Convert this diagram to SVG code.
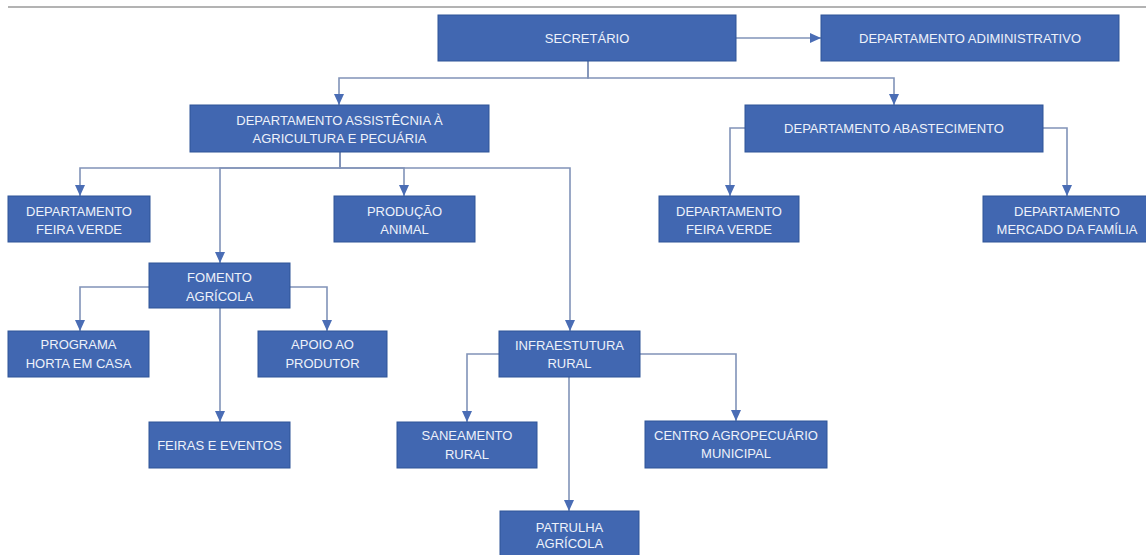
<svg xmlns="http://www.w3.org/2000/svg" width="1146" height="555" viewBox="0 0 1146 555">
  <style>
    .box { fill: #4167b1; stroke: #2f5597; stroke-width: 1; }
    .lbl { font-family: "Liberation Sans", Arial, sans-serif; font-size: 13px; fill: #eef2fa; text-anchor: middle; }
    .conn { fill: none; stroke: #8193b8; stroke-width: 1.6; }
    .arr { marker-end: url(#head); }
  </style>
  <defs>
    <marker id="head" markerUnits="userSpaceOnUse" markerWidth="11" markerHeight="10" refX="11" refY="5" orient="auto">
      <path d="M0,0 L11,5 L0,10 Z" fill="#4a6db5"/>
    </marker>
  </defs>
  <rect width="1146" height="555" fill="#ffffff"/>
  <!-- page rule along the top -->
  <line x1="8" y1="7" x2="1146" y2="7" stroke="#9a9a9a" stroke-width="1.5"/>

  <g id="connectors">
    <path class="conn arr" d="M736,38 H821"/>
    <path class="conn arr" d="M588,61 V78 H339 V105"/>
    <path class="conn arr" d="M588,61 V78 H894 V105"/>
    <path class="conn arr" d="M340,152 V168 H80 V196"/>
    <path class="conn arr" d="M340,152 V168 H220 V263"/>
    <path class="conn arr" d="M340,152 V168 H404 V196"/>
    <path class="conn arr" d="M340,152 V168 H570 V331"/>
    <path class="conn arr" d="M745,128 H730 V196"/>
    <path class="conn arr" d="M1043,128 H1067 V196"/>
    <path class="conn arr" d="M149,287 H80 V331"/>
    <path class="conn arr" d="M290,287 H327 V331"/>
    <path class="conn arr" d="M220,308 V422"/>
    <path class="conn arr" d="M499,354 H467 V422"/>
    <path class="conn arr" d="M640,354 H736 V421"/>
    <path class="conn arr" d="M569,377 V511"/>
  </g>

  <g id="secretario">
    <rect class="box" x="438" y="15" width="298" height="46"/>
    <text class="lbl" x="587" y="42.6">SECRETÁRIO</text>
  </g>
  <g id="dep-administrativo">
    <rect class="box" x="821" y="15" width="298" height="46"/>
    <text class="lbl" x="970" y="42.6">DEPARTAMENTO ADIMINISTRATIVO</text>
  </g>
  <g id="dep-assistencia">
    <rect class="box" x="190" y="105" width="299" height="47"/>
    <text class="lbl" x="339.5" y="124.6">DEPARTAMENTO ASSISTÊCNIA À</text>
    <text class="lbl" x="339.5" y="142.6">AGRICULTURA E PECUÁRIA</text>
  </g>
  <g id="dep-abastecimento">
    <rect class="box" x="745" y="105" width="298" height="47"/>
    <text class="lbl" x="894" y="132.6">DEPARTAMENTO ABASTECIMENTO</text>
  </g>
  <g id="feira-verde-1">
    <rect class="box" x="8" y="196" width="142" height="46"/>
    <text class="lbl" x="79" y="215.6">DEPARTAMENTO</text>
    <text class="lbl" x="79" y="233.6">FEIRA VERDE</text>
  </g>
  <g id="producao-animal">
    <rect class="box" x="334" y="196" width="141" height="46"/>
    <text class="lbl" x="404.5" y="215.6">PRODUÇÃO</text>
    <text class="lbl" x="404.5" y="233.6">ANIMAL</text>
  </g>
  <g id="feira-verde-2">
    <rect class="box" x="659" y="196" width="140" height="46"/>
    <text class="lbl" x="729" y="215.6">DEPARTAMENTO</text>
    <text class="lbl" x="729" y="233.6">FEIRA VERDE</text>
  </g>
  <g id="mercado-familia">
    <rect class="box" x="983" y="196" width="168" height="46"/>
    <text class="lbl" x="1067" y="215.6">DEPARTAMENTO</text>
    <text class="lbl" x="1067" y="233.6">MERCADO DA FAMÍLIA</text>
  </g>
  <g id="fomento-agricola">
    <rect class="box" x="149" y="263" width="141" height="45"/>
    <text class="lbl" x="219.5" y="281.6">FOMENTO</text>
    <text class="lbl" x="219.5" y="300.6">AGRÍCOLA</text>
  </g>
  <g id="programa-horta">
    <rect class="box" x="8" y="331" width="141" height="46"/>
    <text class="lbl" x="78.5" y="348.6">PROGRAMA</text>
    <text class="lbl" x="78.5" y="367.6">HORTA EM CASA</text>
  </g>
  <g id="apoio-produtor">
    <rect class="box" x="258" y="331" width="129" height="46"/>
    <text class="lbl" x="322.5" y="348.6">APOIO AO</text>
    <text class="lbl" x="322.5" y="367.6">PRODUTOR</text>
  </g>
  <g id="infraestrutura-rural">
    <rect class="box" x="499" y="331" width="141" height="46"/>
    <text class="lbl" x="569.5" y="349.6">INFRAESTUTURA</text>
    <text class="lbl" x="569.5" y="367.6">RURAL</text>
  </g>
  <g id="feiras-eventos">
    <rect class="box" x="149" y="422" width="141" height="46"/>
    <text class="lbl" x="219.5" y="449.6">FEIRAS E EVENTOS</text>
  </g>
  <g id="saneamento-rural">
    <rect class="box" x="397" y="422" width="140" height="46"/>
    <text class="lbl" x="467" y="439.6">SANEAMENTO</text>
    <text class="lbl" x="467" y="458.6">RURAL</text>
  </g>
  <g id="centro-agropecuario">
    <rect class="box" x="645" y="421" width="182" height="47"/>
    <text class="lbl" x="736" y="439.6">CENTRO AGROPECUÁRIO</text>
    <text class="lbl" x="736" y="457.6">MUNICIPAL</text>
  </g>
  <g id="patrulha-agricola">
    <rect class="box" x="500" y="511" width="139" height="50"/>
    <text class="lbl" x="569.5" y="531.6">PATRULHA</text>
    <text class="lbl" x="569.5" y="547.6">AGRÍCOLA</text>
  </g>
</svg>
